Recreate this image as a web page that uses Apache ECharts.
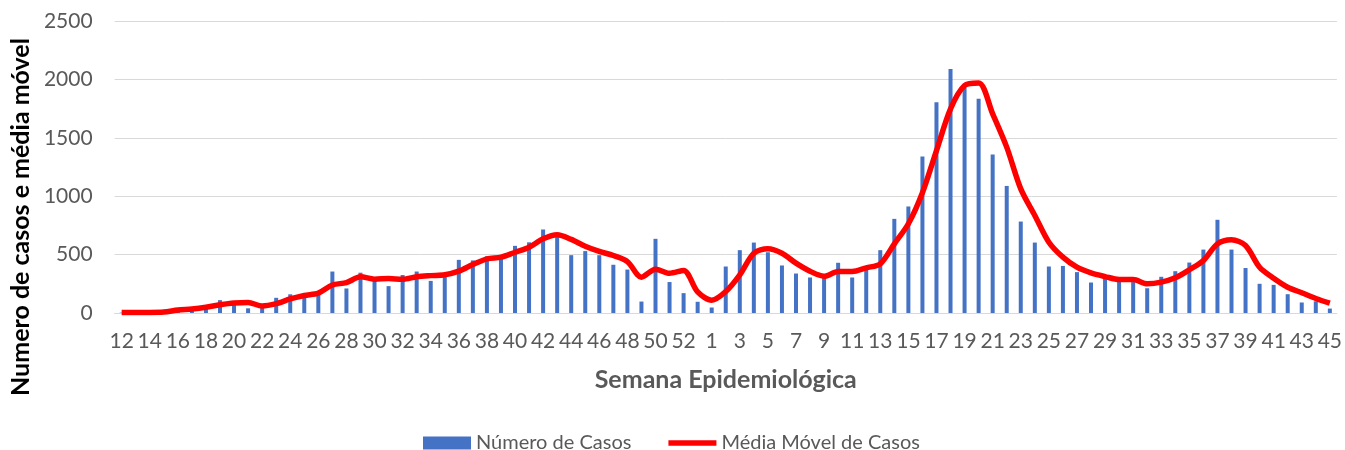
<!DOCTYPE html>
<html>
<head>
<meta charset="utf-8">
<script src="https://cdn.jsdelivr.net/npm/echarts@6/dist/echarts.min.js"></script>
<style>
  html, body { margin: 0; padding: 0; background: #fff; }
  #main { width: 1345px; height: 450px; }
</style>
</head>
<body>
<div id="main"></div>
<script>
// semanas epidemiologicas: 12..53 (2020) e 1..45 (2021)
var semanas = ['12','13','14','15','16','17','18','19','20','21','22','23','24','25','26','27','28','29','30','31','32','33','34','35','36','37','38','39','40','41','42','43','44','45','46','47','48','49','50','51','52','53',
  '1','2','3','4','5','6','7','8','9','10','11','12','13','14','15','16','17','18','19','20','21','22','23','24','25','26','27','28','29','30','31','32','33','34','35','36','37','38','39','40','41','42','43','44','45'];

var numeroCasos = [3, 5, 8, 10, 30, 35, 50, 110, 95, 40, 65, 130, 160, 150, 165, 355, 210, 345, 275, 230, 325, 355, 275, 320, 455, 450, 485, 465, 575, 605, 715, 650, 495, 530, 495, 413, 372, 98, 635, 265, 170, 96,
  47, 398, 538, 603, 520, 407, 338, 304, 305, 430, 304, 370, 538, 806, 912, 1340, 1805, 2090, 1930, 1834, 1357, 1088, 783, 603, 398, 403, 350, 261, 293, 278, 265, 212, 310, 358, 432, 543, 798, 543, 385, 250, 241, 161, 90, 100, 38];

var mediaMovel = [5, 5, 5, 8, 25, 35, 50, 70, 85, 90, 60, 80, 120, 150, 170, 240, 260, 310, 290, 295, 288, 310, 320, 327, 358, 415, 464, 478, 520, 563, 635, 670, 630, 572, 527, 492, 440, 307, 375, 340, 364, 180,
  110, 184, 327, 512, 550, 512, 427, 358, 315, 355, 355, 387, 421, 592, 764, 1030, 1390, 1748, 1948, 1970, 1705, 1420, 1063, 835, 606, 478, 392, 343, 312, 287, 287, 250, 264, 301, 370, 450, 592, 627, 578, 392, 298, 221, 173, 124, 84];

var yTicks = [0, 500, 1000, 1500, 2000, 2500];

var fonte = 'Lato, "Open Sans", sans-serif';
var cinza = '#595959';

var chart = echarts.init(document.getElementById('main'));

chart.setOption({
  animation: false,
  textStyle: { fontFamily: fonte },
  grid: { left: 113, right: 6, top: 21, bottom: 137 },
  legend: {
    top: 428,
    left: 418,
    itemGap: 37,
    itemWidth: 48,
    itemHeight: 13,
    symbolKeepAspect: true,
    textStyle: { fontFamily: fonte, fontSize: 20, color: cinza },
    data: [
      { name: 'Número de Casos', icon: 'rect' },
      { name: 'Média Móvel de Casos', icon: 'path://M0,0L100,0L100,11L0,11Z', itemStyle: { color: '#FF0000' } }
    ]
  },
  xAxis: {
    type: 'category',
    data: semanas,
    name: 'Semana Epidemiológica',
    nameLocation: 'middle',
    nameGap: 54,
    nameTextStyle: { fontFamily: fonte, fontSize: 25, fontWeight: 'bold', color: cinza },
    axisLine: { lineStyle: { color: '#d9d9d9', width: 1 } },
    axisTick: { show: false },
    axisLabel: { interval: 1, fontSize: 21, color: cinza, margin: 18, fontFamily: fonte }
  },
  yAxis: {
    type: 'value',
    min: yTicks[0],
    max: yTicks[yTicks.length - 1],
    interval: 500,
    name: 'Numero de casos e média móvel',
    nameLocation: 'middle',
    nameGap: 78,
    nameTextStyle: { fontFamily: fonte, fontSize: 25, fontWeight: 'bold', color: '#000', padding: [0, 100, 0, 0] },
    axisLine: { show: false },
    axisTick: { show: false },
    axisLabel: { fontSize: 21, color: cinza, margin: 22, fontFamily: fonte, formatter: function (v) { return String(v); } },
    splitLine: { lineStyle: { color: '#d9d9d9', width: 1 } }
  },
  series: [
    {
      name: 'Número de Casos',
      type: 'bar',
      data: numeroCasos,
      barWidth: 4,
      itemStyle: { color: '#4472C4' }
    },
    {
      name: 'Média Móvel de Casos',
      type: 'line',
      data: mediaMovel,
      smooth: 0.3,
      symbol: 'none',
      lineStyle: { color: '#FF0000', width: 5.5 },
      itemStyle: { color: '#FF0000' }
    }
  ]
});
</script>
</body>
</html>
